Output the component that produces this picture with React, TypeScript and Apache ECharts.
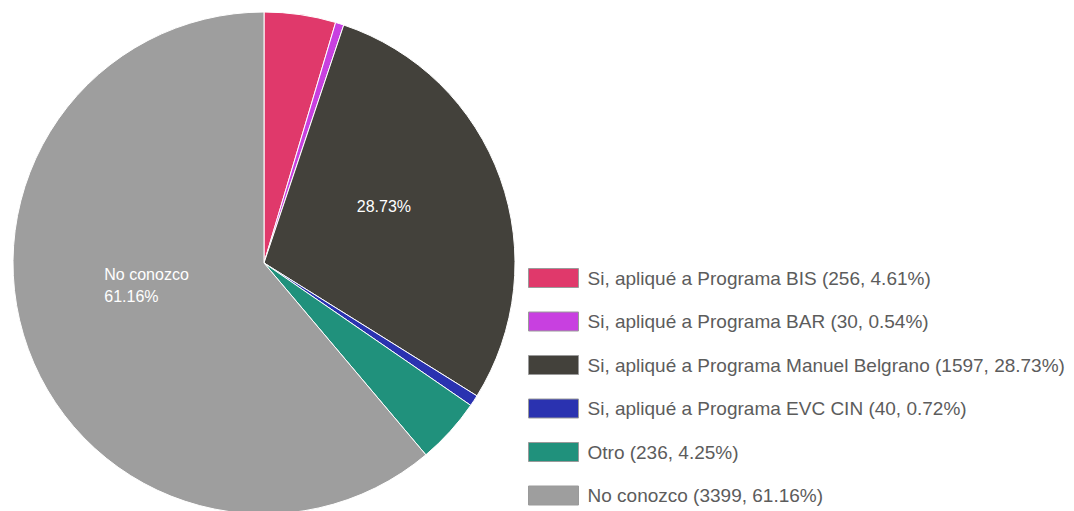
import React, { useEffect, useRef } from "react";
import * as echarts from "echarts";

const categories = [
  "Si, apliqué a Programa BIS",
  "Si, apliqué a Programa BAR",
  "Si, apliqué a Programa Manuel Belgrano",
  "Si, apliqué a Programa EVC CIN",
  "Otro",
  "No conozco",
];
const values = [256, 30, 1597, 40, 236, 3399];
const colors = ["#e0396b", "#c840e0", "#43413b", "#2a32b0", "#20917c", "#9e9e9e"];
const labelShown = [false, false, true, false, false, true];
const labelWithName = [false, false, false, false, false, true];

const FONT = "'Liberation Sans', Arial, Helvetica, sans-serif";

export default function App() {
  const ref = useRef<HTMLDivElement>(null);
  useEffect(() => {
    if (!ref.current) return;
    const chart = echarts.init(ref.current, undefined, { renderer: "svg" });
    const total = values.reduce((a, b) => a + b, 0);
    const pct = (v: number) => ((v / total) * 100).toFixed(2) + "%";
    chart.setOption({
      animation: false,
      backgroundColor: "#ffffff",
      legend: {
        orient: "vertical",
        left: 528,
        top: 268,
        height: 320,
        padding: 0,
        itemWidth: 50,
        itemHeight: 19,
        itemGap: 23.5,
        icon: "rect",
        itemStyle: { borderColor: "#9a9a9a", borderWidth: 1 },
        textStyle: {
          fontFamily: FONT,
          fontSize: 19,
          lineHeight: 19,
          color: "#5c5c5c",
          padding: [0, 0, 0, 4],
        },
        formatter: (name: string) => {
          const i = categories.indexOf(name);
          const v = values[i];
          return `${name} (${v}, ${pct(v)})`;
        },
        data: categories,
      },
      series: [
        {
          type: "pie",
          center: [264, 263],
          radius: 251,
          startAngle: 90,
          clockwise: true,
          avoidLabelOverlap: false,
          itemStyle: { borderColor: "#ffffff", borderWidth: 1 },
          emphasis: { disabled: true },
          labelLine: { show: false },
          labelLayout: (params: any) => {
            if (params.dataIndex === 5) return { dx: -39, dy: -22, align: "left" };
            if (params.dataIndex === 2) return { dx: -1, dy: -13 };
            return {};
          },
          data: categories.map((name, i) => ({
            name,
            value: values[i],
            itemStyle: { color: colors[i] },
            label: {
              show: labelShown[i],
              position: "inside",
              formatter: () =>
                labelWithName[i] ? `${name}\n${pct(values[i])}` : pct(values[i]),
              color: "#ffffff",
              fontFamily: FONT,
              fontSize: 16,
              lineHeight: 22,
              align: i === 5 ? "left" : "center",
            },
          })),
        },
      ],
    });
    return () => chart.dispose();
  }, []);
  return (
    <div
      ref={ref}
      style={{ position: "fixed", left: 0, top: 0, width: 1074, height: 511 }}
    />
  );
}
